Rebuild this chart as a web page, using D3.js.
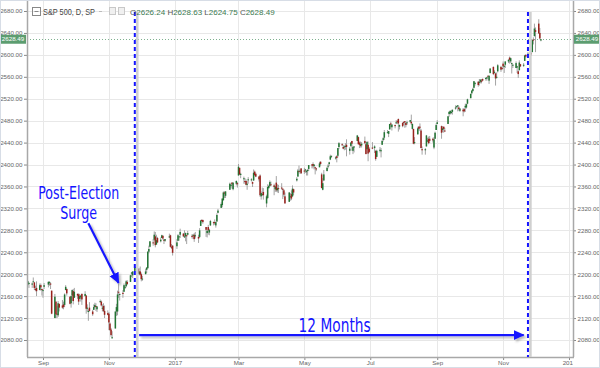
<!DOCTYPE html>
<html>
<head>
<meta charset="utf-8">
<script src="https://cdn.jsdelivr.net/npm/d3@7"></script>
<style>
  body { margin: 0; background: #fff; }
  svg { display: block; font-family: "Liberation Sans", Arial, sans-serif; }
</style>
</head>
<body>
<script>
// S&P 500 daily candles, Aug 17 2016 .. Dec 6 2017
var firstDay = "2016-08-17", lastDay = "2017-12-06";
var holidays = ["2016-09-05", "2016-11-24", "2016-12-26", "2017-01-02", "2017-01-16",
  "2017-02-20", "2017-04-14", "2017-05-29", "2017-07-04", "2017-09-04", "2017-11-23"];

var opens = [
  2178,2181,2184,2181,2187,2185,2173,2175,2171,2180,2173,
  2171,2177,2181,2185,2183,2170,2120,2150,2128,2125,2146,2143,2145,2144,2171,2173,2159,2147,2161,2169,2157,
  2164,2163,2155,2158,2164,2160,2161,2137,2131,2139,2132,2135,2140,2142,2136,2149,2150,2137,2142,2133,2129,
  2128,2110,2099,2083,2101,2132,2132,2168,2163,2166,2168,2177,2178,2186,2186,2202,2198,2206,2210,2200,2205,
  2200,2191,2200,2208,2211,2241,2250,2258,2263,2269,2254,2266,2260,2266,2270,2263,2261,2267,2271,2250,2252,
  2251,2261,2269,2272,2274,2269,2269,2271,2272,2270,2270,2272,2269,2268,2268,2288,2299,2299,2286,2275,
  2286,2276,2289,2295,2295,2289,2296,2312,2321,2326,2335,2349,2343,2354,2361,2367,2355,2365,2366,
  2380,2394,2381,2375,2370,2370,2363,2372,2372,2368,2371,2387,2383,2378,2380,2342,2346,2350,2329,2339,2357,2361,2364,
  2362,2355,2367,2353,2357,2358,2356,2353,2342,2332,2342,2346,2342,2355,2371,2378,2388,2389,2393,
  2389,2391,2386,2390,2392,2400,2401,2397,2395,2393,2395,2405,2382,2354,2371,2388,2397,2401,2409,2414,2411,2415,
  2416,2432,2437,2432,2432,2434,2436,2425,2434,2443,2425,2431,2443,2450,2440,2437,2435,2443,2437,2428,2436,2429,
  2431,2430,2425,2414,2425,2425,2436,2445,2449,2459,2456,2464,2475,2468,2472,2477,2479,2483,2469,2476,
  2478,2479,2476,2476,2478,2478,2465,2465,2439,2455,2469,2469,2462,2428,2426,2433,2444,2447,2447,2447,2431,2447,2463,
  2474,2470,2463,2469,2462,2474,2492,2493,2494,2496,2502,2506,2507,2504,2498,2500,2501,2504,2504,2511,
  2521,2530,2534,2540,2547,2551,2549,2551,2553,2556,2556,2557,2562,2553,2567,2578,2568,2566,2560,2570,2578,2576,
  2584,2580,2582,2588,2595,2588,2585,2581,2576,2577,2570,2572,2583,2580,2589,2600,2601,2603,2605,2628,2634,
  2645,2657,2640,2626.24
];
var highs = [
  2183,2188,2185,2185,2194,2186,2179,2187,2183,2183,2174,
  2173,2184,2187,2187,2185,2170,2164,2150,2142,2151,2146,2153,2150,2165,2180,2174,2159,2161,2172,2173,2175,
  2165,2165,2164,2162,2165,2169,2162,2145,2136,2149,2135,2145,2148,2147,2142,2154,2152,2145,2147,2143,2134,
  2131,2112,2102,2096,2132,2146,2170,2183,2165,2171,2183,2180,2189,2189,2199,2204,2205,2213,2211,2211,2214,
  2203,2197,2210,2213,2242,2252,2260,2264,2278,2277,2272,2268,2267,2272,2271,2264,2264,2274,2272,2255,2253,
  2264,2273,2270,2283,2275,2280,2276,2271,2279,2273,2272,2275,2277,2272,2284,2299,2300,2299,2286,2281,
  2290,2283,2299,2296,2300,2296,2311,2319,2331,2338,2351,2351,2351,2367,2365,2368,2367,2371,2368,
  2401,2394,2385,2378,2375,2373,2370,2377,2375,2369,2391,2389,2385,2379,2382,2351,2358,2357,2345,2364,2363,2371,2369,
  2365,2361,2379,2364,2363,2366,2356,2355,2349,2350,2348,2353,2362,2356,2377,2392,2398,2392,2393,
  2394,2392,2390,2392,2399,2401,2404,2400,2396,2394,2405,2406,2385,2375,2390,2396,2401,2405,2418,2416,2415,2417,
  2430,2441,2439,2436,2435,2439,2446,2432,2441,2443,2434,2433,2454,2451,2442,2442,2441,2451,2441,2443,2442,2432,
  2441,2435,2426,2427,2432,2430,2445,2450,2463,2463,2461,2474,2478,2473,2473,2481,2481,2484,2473,2477,
  2478,2479,2477,2480,2481,2491,2475,2465,2450,2469,2470,2475,2465,2433,2430,2454,2449,2451,2452,2449,2450,2460,2475,
  2481,2471,2470,2469,2467,2488,2497,2498,2499,2500,2508,2507,2508,2507,2503,2503,2503,2511,2511,2520,
  2529,2535,2540,2552,2550,2552,2556,2555,2556,2557,2559,2560,2562,2562,2576,2579,2572,2567,2568,2583,2580,2578,
  2588,2582,2588,2592,2597,2595,2586,2583,2588,2580,2572,2590,2583,2585,2600,2601,2605,2606,2628,2632,2657,
  2650,2665,2649,2628.63
];
var lows = [
  2169,2180,2175,2175,2186,2171,2169,2160,2171,2170,2161,
  2157,2173,2176,2179,2173,2127,2120,2120,2120,2122,2132,2137,2136,2140,2171,2161,2145,2139,2151,2145,2157,
  2155,2144,2155,2150,2144,2160,2128,2132,2115,2132,2124,2135,2138,2133,2131,2148,2141,2132,2131,2120,2125,
  2098,2097,2086,2083,2101,2124,2125,2157,2152,2157,2168,2173,2176,2180,2186,2195,2193,2206,2200,2198,2198,
  2187,2188,2200,2202,2210,2238,2249,2252,2261,2249,2254,2257,2258,2266,2263,2255,2259,2266,2249,2246,2234,
  2246,2261,2261,2266,2268,2266,2260,2255,2271,2265,2264,2259,2265,2257,2266,2288,2294,2292,2268,2267,
  2272,2271,2288,2289,2290,2285,2296,2311,2321,2322,2334,2339,2339,2354,2358,2356,2353,2362,2358,
  2380,2381,2375,2365,2365,2362,2354,2365,2369,2359,2370,2379,2377,2369,2341,2336,2343,2336,2322,2337,2356,2359,2361,
  2344,2350,2350,2349,2348,2354,2337,2341,2329,2332,2334,2335,2341,2344,2369,2378,2386,2383,2383,
  2383,2385,2380,2380,2388,2393,2393,2391,2382,2388,2395,2398,2357,2353,2370,2388,2393,2397,2408,2412,2409,2404,
  2413,2428,2434,2428,2426,2427,2415,2418,2432,2425,2419,2422,2443,2437,2430,2431,2431,2437,2419,2428,2406,2421,
  2428,2421,2407,2414,2422,2413,2436,2442,2445,2457,2450,2464,2468,2462,2466,2474,2474,2460,2464,2468,
  2472,2467,2468,2472,2476,2472,2464,2437,2437,2455,2462,2461,2430,2418,2418,2433,2441,2437,2439,2440,2428,2447,2463,
  2474,2447,2459,2458,2460,2474,2487,2491,2492,2491,2500,2503,2497,2498,2496,2488,2495,2496,2502,2510,
  2521,2528,2533,2539,2544,2542,2544,2548,2548,2552,2553,2553,2557,2547,2566,2563,2566,2544,2557,2568,2569,2572,
  2575,2567,2576,2585,2584,2585,2566,2576,2576,2567,2558,2572,2578,2578,2589,2595,2600,2598,2605,2619,2634,
  2605,2639,2628,2624.75
];
var closes = [
  2182,2187,2184,2183,2187,2175,2172,2169,2180,2176,2171,
  2171,2180,2186,2186,2181,2128,2159,2127,2126,2147,2139,2139,2140,2163,2177,2165,2146,2160,2171,2151,2168,
  2161,2150,2160,2161,2154,2164,2137,2139,2133,2133,2127,2140,2144,2141,2141,2151,2143,2139,2133,2126,2126,
  2112,2098,2089,2085,2132,2140,2163,2167,2164,2164,2180,2177,2187,2182,2198,2203,2205,2213,2202,2205,2199,
  2191,2192,2205,2212,2241,2246,2260,2257,2272,2253,2262,2258,2263,2271,2265,2261,2264,2269,2250,2249,2239,
  2258,2271,2269,2277,2269,2269,2275,2270,2275,2268,2272,2264,2271,2265,2280,2298,2297,2295,2281,2279,
  2280,2281,2297,2293,2293,2295,2308,2316,2328,2338,2349,2347,2351,2365,2363,2364,2367,2370,2364,
  2396,2382,2383,2375,2368,2363,2365,2373,2373,2365,2385,2381,2378,2373,2344,2348,2346,2344,2342,2359,2361,2368,2363,
  2359,2360,2353,2357,2356,2357,2354,2345,2329,2349,2342,2338,2356,2349,2374,2389,2387,2389,2384,
  2388,2391,2388,2390,2399,2399,2397,2400,2394,2391,2402,2401,2357,2366,2382,2394,2398,2404,2415,2416,2413,2412,
  2430,2439,2436,2429,2433,2434,2432,2429,2440,2438,2432,2433,2453,2437,2436,2434,2438,2439,2419,2441,2420,2423,
  2429,2433,2410,2425,2427,2426,2443,2448,2459,2459,2461,2474,2473,2473,2470,2477,2478,2475,2472,2470,
  2476,2478,2472,2477,2481,2475,2474,2438,2441,2466,2465,2468,2430,2426,2428,2453,2444,2439,2443,2444,2446,2458,2472,
  2477,2458,2466,2465,2461,2488,2496,2498,2496,2500,2504,2507,2508,2501,2502,2497,2497,2507,2510,2519,
  2529,2535,2538,2552,2549,2545,2551,2555,2551,2553,2558,2559,2561,2562,2575,2565,2569,2557,2560,2581,2573,2575,
  2579,2580,2588,2591,2591,2594,2585,2582,2585,2579,2565,2586,2579,2582,2599,2597,2602,2601,2627,2626,2648,
  2642,2639,2630,2628.49
];

var priceTicks = [2080,2120,2160,2200,2240,2280,2320,2360,2400,2440,2480,2520,2560,2600,2640,2680];
var monthTicks = ["2016-09-01","2016-11-01","2017-01-01","2017-03-01","2017-05-01",
  "2017-07-01","2017-09-01","2017-11-01","2018-01-01"];

// annotations
var markerDates = ["2016-11-25", "2017-11-24"];
var spanLabel = "12 Months";
var surgeLabel = ["Post-Election", "Surge"];

var W = 600, H = 368;
var plotL = 27, plotR = 573, plotB = 357;
var BLUE = "#1414ff";
var NARROW = "'Liberation Sans Narrow', 'DejaVu Sans Condensed', sans-serif";

// trading days
var days = [];
for (var d = new Date(firstDay); d <= new Date(lastDay); d = new Date(d.getTime() + 864e5)) {
  var iso = d.toISOString().slice(0, 10);
  var wd = d.getUTCDay();
  if (wd === 0 || wd === 6 || holidays.indexOf(iso) >= 0) continue;
  days.push(new Date(d));
}
var candles = days.map(function(day, i) {
  return {date: day, o: opens[i], h: highs[i], l: lows[i], c: closes[i]};
});

var x = d3.scaleUtc()
  .domain([new Date("2016-09-01"), new Date("2018-01-01")])
  .range([43, 569]);
var y = d3.scaleLinear().domain([2080, 2680]).range([340, 11]);

var svg = d3.select("body").append("svg").attr("width", W).attr("height", H);

var defs = svg.append("defs");
defs.append("clipPath").attr("id", "plot")
  .append("rect").attr("x", plotL).attr("y", 0).attr("width", plotR - plotL).attr("height", plotB);
defs.append("clipPath").attr("id", "xlab")
  .append("rect").attr("x", 0).attr("y", 0).attr("width", plotR).attr("height", H - plotB);
var sh = defs.append("filter").attr("id", "shadow").attr("filterUnits", "userSpaceOnUse")
  .attr("x", 0).attr("y", 0).attr("width", W).attr("height", H);
sh.append("feDropShadow").attr("dx", 2).attr("dy", 2).attr("stdDeviation", 1)
  .attr("flood-color", "#666").attr("flood-opacity", 0.45);
defs.append("marker").attr("id", "head")
  .attr("markerUnits", "userSpaceOnUse")
  .attr("markerWidth", 12).attr("markerHeight", 12)
  .attr("refX", 10).attr("refY", 5).attr("orient", "auto")
  .append("path").attr("d", "M0,0L11,5L0,10Z").attr("fill", BLUE);

svg.append("rect").attr("width", W).attr("height", H).attr("fill", "#fff");

// grid
var grid = svg.append("g").attr("clip-path", "url(#plot)");
grid.selectAll(".hg").data(priceTicks).enter().append("line")
  .attr("x1", plotL).attr("x2", plotR)
  .attr("y1", function(v) { return Math.round(y(v)) + 0.5; })
  .attr("y2", function(v) { return Math.round(y(v)) + 0.5; })
  .attr("stroke", "#e8e8e8");
grid.selectAll(".vg").data(monthTicks).enter().append("line")
  .attr("x1", function(m) { return Math.round(x(new Date(m))) + 0.5; })
  .attr("x2", function(m) { return Math.round(x(new Date(m))) + 0.5; })
  .attr("y1", 0).attr("y2", plotB)
  .attr("stroke", "#e8e8e8");

// last price line
var last = candles[candles.length - 1];
grid.append("line")
  .attr("x1", plotL).attr("x2", plotR)
  .attr("y1", Math.round(y(last.c)) + 0.5).attr("y2", Math.round(y(last.c)) + 0.5)
  .attr("stroke", "#7fb28f").attr("stroke-dasharray", "1,2");

// candles
var cg = svg.append("g").attr("clip-path", "url(#plot)");
cg.selectAll(".wick").data(candles).enter().append("line")
  .attr("x1", function(d) { return x(d.date); })
  .attr("x2", function(d) { return x(d.date); })
  .attr("y1", function(d) { return y(d.h); })
  .attr("y2", function(d) { return y(d.l); })
  .attr("stroke", "#9a9a9a").attr("stroke-width", 0.9);
cg.selectAll(".body").data(candles).enter().append("rect")
  .attr("x", function(d) { return x(d.date) - 0.75; })
  .attr("width", 1.5)
  .attr("y", function(d) { return y(Math.max(d.o, d.c)); })
  .attr("height", function(d) { return Math.max(1, Math.abs(y(d.o) - y(d.c))); })
  .attr("fill", function(d) { return d.c >= d.o ? "#237534" : "#9a221c"; });

// axes
var axisColor = "#a8a8a8";
var fmt = d3.format(".2f");
var ra = svg.append("g").attr("transform", "translate(" + plotR + ",0)")
  .call(d3.axisRight(y).tickValues(priceTicks).tickFormat(fmt).tickSize(3).tickPadding(1.5));
var la = svg.append("g").attr("transform", "translate(" + plotL + ",0)")
  .call(d3.axisLeft(y).tickValues(priceTicks).tickFormat(fmt).tickSize(3).tickPadding(1.5));
var ba = svg.append("g").attr("transform", "translate(0," + plotB + ")").attr("clip-path", "url(#xlab)")
  .call(d3.axisBottom(x).tickValues(monthTicks.map(function(m) { return new Date(m); }))
    .tickFormat(function(t) {
      return t.getUTCMonth() === 0 ? d3.utcFormat("%Y")(t) : d3.utcFormat("%b")(t);
    }).tickSize(3).tickPadding(1));
[ra, la, ba].forEach(function(a) {
  a.select(".domain").remove();
  a.selectAll(".tick line").attr("stroke", "#888");
  a.selectAll("text").attr("fill", "#666").style("font-size", "6.2px");
});

svg.append("line").attr("x1", plotL + 0.5).attr("x2", plotL + 0.5).attr("y1", 0).attr("y2", plotB)
  .attr("stroke", axisColor).attr("stroke-width", 1.5);
svg.append("line").attr("x1", plotR + 0.5).attr("x2", plotR + 0.5).attr("y1", 0).attr("y2", plotB)
  .attr("stroke", axisColor).attr("stroke-width", 1.5);
svg.append("line").attr("x1", plotL).attr("x2", plotR + 1).attr("y1", plotB + 0.5).attr("y2", plotB + 0.5)
  .attr("stroke", axisColor).attr("stroke-width", 1.5);

// last price tags
[[0, plotL - 1], [plotR + 1, W - plotR - 1]].forEach(function(p) {
  svg.append("rect").attr("x", p[0]).attr("y", y(last.c) - 4.5).attr("width", p[1]).attr("height", 9)
    .attr("fill", "#5c9d70");
  svg.append("text").attr("x", p[0] + p[1] / 2).attr("y", y(last.c) + 2.2)
    .attr("text-anchor", "middle").attr("fill", "#fff").style("font-size", "6.2px").text(fmt(last.c));
});

// marker lines (12 months apart)
markerDates.forEach(function(m) {
  var mx = x(new Date(m));
  svg.append("line").attr("x1", mx + 2.5).attr("x2", mx + 2.5)
    .attr("y1", y(2678)).attr("y2", plotB)
    .attr("stroke", "#d0d0d0").attr("stroke-width", 2.5);
  svg.append("line").attr("x1", mx).attr("x2", mx)
    .attr("y1", y(2678)).attr("y2", plotB)
    .attr("stroke", BLUE).attr("stroke-width", 2).attr("stroke-dasharray", "4,3");
});

// span arrow
svg.append("line")
  .attr("x1", x(new Date("2016-11-29"))).attr("x2", x(new Date("2017-11-20")))
  .attr("y1", y(2089)).attr("y2", y(2089))
  .attr("stroke", BLUE).attr("stroke-width", 2.2)
  .attr("marker-end", "url(#head)").attr("filter", "url(#shadow)");
svg.append("text")
  .attr("x", x(new Date("2017-05-29"))).attr("y", y(2094))
  .attr("text-anchor", "middle").attr("fill", BLUE)
  .style("font-family", NARROW).style("font-size", "19px")
  .attr("textLength", 72).attr("lengthAdjust", "spacingAndGlyphs")
  .text(spanLabel);

// surge arrow
svg.append("line")
  .attr("x1", x(new Date("2016-10-13"))).attr("y1", y(2293))
  .attr("x2", x(new Date("2016-11-10"))).attr("y2", y(2184))
  .attr("stroke", BLUE).attr("stroke-width", 2.2)
  .attr("marker-end", "url(#head)").attr("filter", "url(#shadow)");
var surgeWidths = [81, 37];
svg.append("text").attr("text-anchor", "middle").attr("fill", BLUE)
  .style("font-family", NARROW).style("font-size", "17px")
  .selectAll("tspan").data(surgeLabel).enter().append("tspan")
  .attr("x", x(new Date("2016-10-04")))
  .attr("y", function(s, i) { return y(i === 0 ? 2337 : 2300); })
  .attr("textLength", function(s, i) { return surgeWidths[i]; })
  .attr("lengthAdjust", "spacingAndGlyphs")
  .text(function(s) { return s; });

// header
var hd = svg.append("g").attr("transform", "translate(32,15)");
hd.append("rect").attr("x", 0.5).attr("y", -7.5).attr("width", 8).attr("height", 8)
  .attr("fill", "none").attr("stroke", "#888");
hd.append("line").attr("x1", 2.5).attr("x2", 6.5).attr("y1", -3.5).attr("y2", -3.5).attr("stroke", "#888");
hd.append("text").attr("x", 11).attr("fill", "#444").style("font-size", "9px")
  .attr("textLength", 52).attr("lengthAdjust", "spacingAndGlyphs").text("S&P 500, D, SP");
hd.append("line").attr("x1", 67).attr("x2", 70).attr("y1", -3.5).attr("y2", -3.5).attr("stroke", "#bbb");
[77, 86].forEach(function(px) {
  hd.append("rect").attr("x", px + 0.5).attr("y", -7.5).attr("width", 6).attr("height", 7)
    .attr("fill", "#f0f0f0").attr("stroke", "#c8c8c8");
});
var ohlc = hd.append("text").attr("x", 98).style("font-size", "8px");
[["O", last.o], ["H", last.h], ["L", last.l], ["C", last.c]].forEach(function(p, i) {
  ohlc.append("tspan").attr("fill", "#555").text((i ? " " : "") + p[0]);
  ohlc.append("tspan").attr("fill", "#3c7a52").text(fmt(p[1]));
});

// frame
svg.append("rect").attr("x", 0.5).attr("y", 0.5).attr("width", W - 1).attr("height", H - 1)
  .attr("fill", "none").attr("stroke", "#d7dde6");
</script>
</body>
</html>
